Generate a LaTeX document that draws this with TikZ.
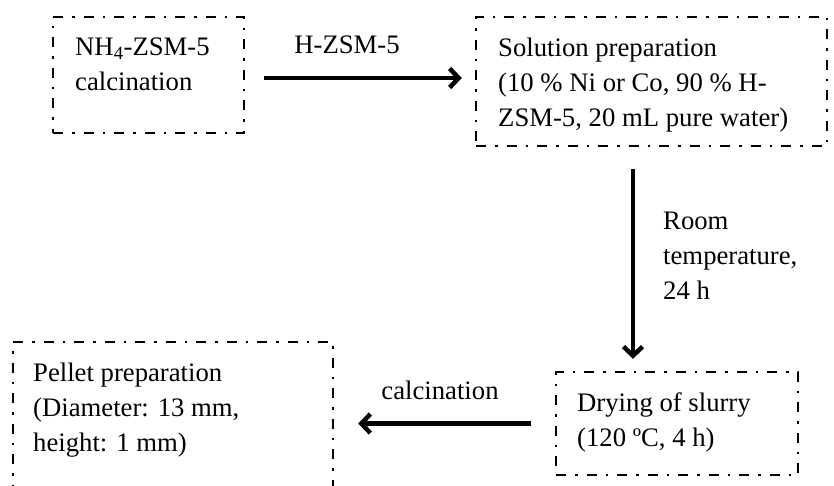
\documentclass[tikz,border=0pt]{standalone}
\usepackage{fontspec}
\setmainfont{Liberation Serif}
\usetikzlibrary{arrows.meta}
\begin{document}
\begin{tikzpicture}[x=1pt,y=-1pt,>={Straight Barb[length=9pt,width=19pt]},
    box/.style={draw,line width=2.5pt,dash pattern=on 10pt off 9pt on 2.5pt off 9pt,inner sep=0pt},
    txt/.style={inner sep=0pt,align=left,font=\fontsize{26.7}{35}\selectfont},
    arr/.style={->,line width=4.5pt}]
    \clip (0,0) rectangle (834,486);
    \node[box,minimum width=191pt,minimum height=116pt](calc) at (148.5,75){};
    \node[box,minimum width=351pt,minimum height=129pt](sol) at (651.5,81.5){};
    \node[box,minimum width=242pt,minimum height=103pt](dry) at (677,423.5){};
    \node[box,minimum width=320pt,minimum height=163pt](pell) at (173,423.5){};
\node[txt,anchor=north west](calct) at (75,37.5){NH\textsubscript{4}-ZSM-5\\calcination};
\node[txt,anchor=north west](solt) at (498,37.5){Solution preparation\\(10 \% Ni or Co, 90 \% H-\\ZSM-5, 20 mL pure water)};
\node[txt,anchor=north west](dryt) at (577,392.5){Drying of slurry\\(120 ºC, 4 h)};
\node[txt,anchor=north west](pellt) at (33,362.5){Pellet preparation\\(Diameter: 13 mm,\\height: 1 mm)};
\node[txt](hzsm) at (347,45){H-ZSM-5};
\node[txt](calcl) at (440,390){calcination};
\node[txt,anchor=north west](room) at (663,211.5){Room\\temperature,\\24 h};
    \draw[arr,shorten <=19pt,shorten >=13pt]([yshift=-3pt]calc.east)--([yshift=3.5pt]sol.west);
    \draw[arr,shorten <=22pt,shorten >=12pt]([xshift=-18.5pt]sol.south)--([xshift=-44pt]dry.north);
    \draw[arr,shorten <=24pt,shorten >=24pt](dry.west)--(pell.east);


\end{tikzpicture}
\end{document}
